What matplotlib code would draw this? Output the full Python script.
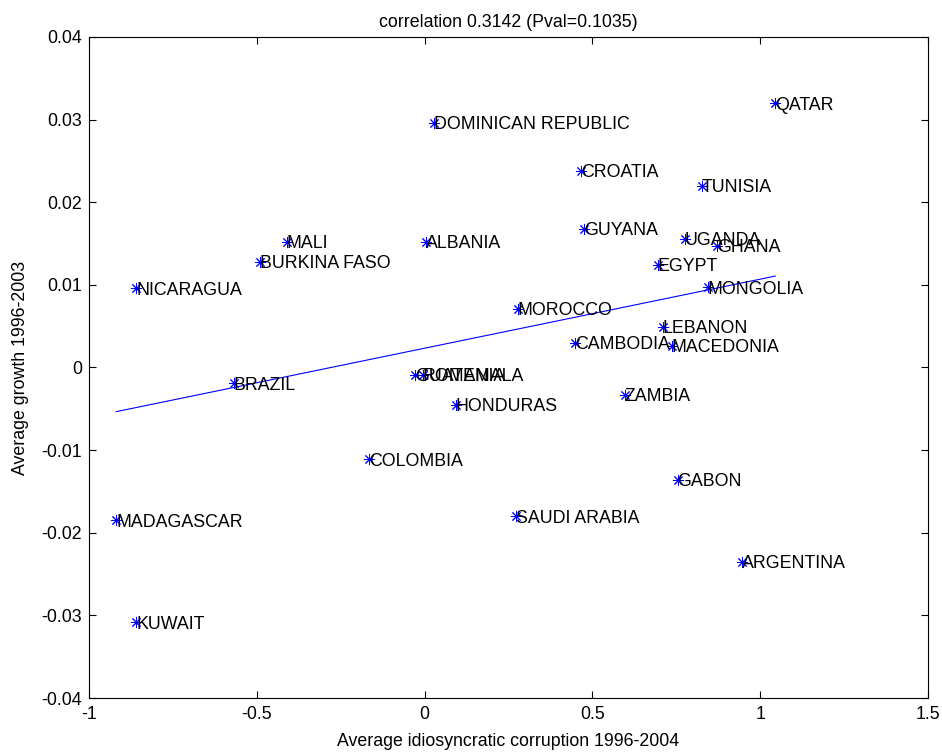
import numpy as np
import matplotlib.pyplot as plt

plt.rcParams['font.family'] = ['Liberation Sans', 'DejaVu Sans']

# Country data
countries = ['QATAR', 'DOMINICAN REPUBLIC', 'CROATIA', 'TUNISIA', 'GUYANA',
             'UGANDA', 'GHANA', 'MALI', 'ALBANIA', 'BURKINA FASO', 'EGYPT',
             'NICARAGUA', 'MONGOLIA', 'MOROCCO', 'LEBANON', 'CAMBODIA',
             'MACEDONIA', 'GUATEMALA', 'ROMANIA', 'BRAZIL', 'HONDURAS',
             'ZAMBIA', 'COLOMBIA', 'GABON', 'SAUDI ARABIA', 'MADAGASCAR',
             'ARGENTINA', 'KUWAIT']
corruption = [1.045, 0.027, 0.467, 0.826, 0.476,
              0.775, 0.871, -0.41, 0.003, -0.491, 0.695,
              -0.859, 0.844, 0.278, 0.71, 0.449,
              0.737, -0.027, -0.006, -0.569, 0.093,
              0.596, -0.165, 0.754, 0.272, -0.919,
              0.946, -0.859]
growth = [0.0320, 0.0296, 0.0238, 0.0220, 0.0168,
          0.0156, 0.0147, 0.0152, 0.0152, 0.0128, 0.0124,
          0.0096, 0.0097, 0.0071, 0.0049, 0.0030,
          0.0026, -0.0009, -0.0009, -0.0019, -0.0045,
          -0.0033, -0.0111, -0.0136, -0.0180, -0.0185,
          -0.0235, -0.0308]

xticks = [-1, -0.5, 0, 0.5, 1, 1.5]
xlabels = ['-1', '-0.5', '0', '0.5', '1', '1.5']
yticks = [-0.04, -0.03, -0.02, -0.01, 0, 0.01, 0.02, 0.03, 0.04]
ylabels = ['-0.04', '-0.03', '-0.02', '-0.01', '0', '0.01', '0.02', '0.03', '0.04']

x = np.array(corruption)
y = np.array(growth)

fig = plt.figure(figsize=(9.42, 7.53), dpi=100)
ax = fig.add_axes([0.0945, 0.073, 0.8905, 0.878])

ax.plot(x, y, linestyle='none', marker=(8, 2, 0), markersize=8,
        color='blue', markeredgewidth=0.7)
for name, xi, yi in zip(countries, x, y):
    ax.text(xi, yi, name, fontsize=12.8, ha='left', va='center_baseline')

# least squares line
p = np.polyfit(x, y, 1)
xl = np.array([x.min(), x.max()])
ax.plot(xl, np.polyval(p, xl), color='blue', linewidth=0.8)

ax.set_xlim(-1, 1.5)
ax.set_ylim(-0.04, 0.04)
ax.set_xticks(xticks)
ax.set_xticklabels(xlabels)
ax.set_yticks(yticks)
ax.set_yticklabels(ylabels)
ax.tick_params(direction='in', top=True, right=True, labelsize=12.8, length=5)
ax.tick_params(axis='x', pad=6)
ax.tick_params(axis='y', pad=5)
ax.set_xlabel('Average idiosyncratic corruption 1996-2004', fontsize=12.8, labelpad=7)
ax.set_ylabel('Average growth 1996-2003', fontsize=12.8, labelpad=9)
ax.set_title('correlation 0.3142 (Pval=0.1035)', fontsize=12.8, pad=7)

fig.savefig('out.png')
